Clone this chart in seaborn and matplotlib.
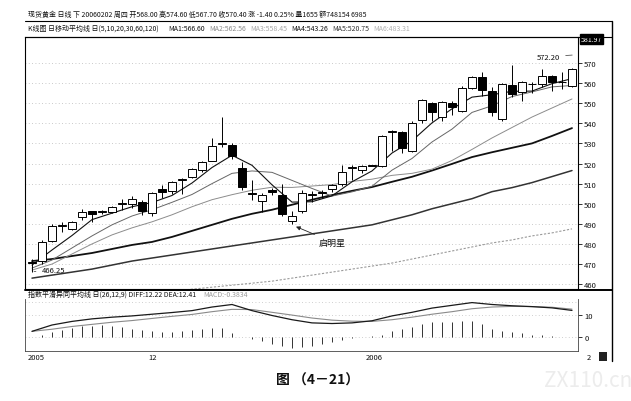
import numpy as np
import pandas as pd
import matplotlib
matplotlib.use('Agg')
import matplotlib.pyplot as plt
import seaborn as sns
from matplotlib.lines import Line2D
from matplotlib.patches import Rectangle

# ---- daily candles, left to right ----
opens  = [471.2, 471.5, 481.5, 489.0, 487.5, 493.5, 496.2, 495.8, 496.0, 500.0,
          500.0, 501.0, 495.5, 507.3, 506.3, 512.0, 513.3, 516.8, 521.2, 529.5,
          529.2, 517.8, 505.5, 501.3, 506.8, 504.3, 491.5, 496.4, 504.5, 505.5,
          507.3, 509.8, 518.0, 516.8, 518.8, 518.8, 535.5, 535.7, 526.2, 541.6,
          550.1, 543.1, 550.1, 546.1, 557.6, 563.0, 556.1, 542.1, 559.1, 555.6,
          559.3, 559.6, 563.5, 560.3, 558.6]
highs  = [472.5, 482.0, 490.0, 491.0, 491.5, 497.5, 496.5, 497.0, 499.0, 502.5,
          504.0, 502.0, 506.0, 509.5, 511.5, 513.0, 518.0, 521.0, 532.5, 543.0,
          530.0, 520.5, 512.0, 505.5, 508.0, 510.0, 496.5, 507.0, 506.5, 507.0,
          510.0, 519.3, 519.5, 519.5, 519.0, 534.0, 536.5, 536.0, 541.0, 552.0,
          550.5, 551.0, 551.0, 558.5, 563.5, 565.5, 558.0, 560.0, 569.0, 561.0,
          560.5, 567.0, 564.0, 565.5, 567.5]
lows   = [466.25, 470.0, 481.0, 486.0, 487.0, 492.0, 491.0, 495.0, 495.5, 497.0,
          498.0, 494.5, 494.0, 503.0, 505.0, 505.0, 513.0, 516.0, 521.0, 528.0,
          522.0, 507.0, 502.0, 496.0, 504.5, 494.0, 490.0, 495.5, 501.0, 503.0,
          506.0, 509.0, 512.0, 515.5, 518.8, 518.5, 526.0, 525.0, 525.5, 540.0,
          541.0, 541.0, 544.0, 545.5, 557.0, 553.5, 543.5, 541.0, 553.0, 551.0,
          555.0, 558.0, 556.0, 557.0, 558.0]
closes = [470.5, 481.0, 489.0, 489.3, 491.0, 496.0, 495.0, 496.0, 498.5, 500.5,
          502.3, 496.5, 505.3, 505.8, 510.8, 512.5, 517.3, 520.7, 528.7, 530.0,
          523.7, 508.3, 505.0, 504.3, 505.8, 495.0, 494.0, 505.3, 505.0, 506.0,
          509.3, 515.8, 518.5, 518.8, 519.0, 533.7, 536.0, 527.7, 540.1, 551.6,
          545.6, 550.6, 548.1, 557.6, 563.0, 556.6, 545.6, 559.6, 554.6, 560.5,
          559.6, 563.5, 560.5, 560.6, 567.0]

# ---- moving averages, read every second day ----
ma_days = list(range(0, 55, 2))
ma5   = [469.5, 477.0, 484.2, 492.1, 495.3, 498.5, 500.6, 504.1, 510.3, 518.0,
         524.1, 519.1, 509.4, 500.8, 501.0, 503.9, 510.9, 516.3, 525.2, 531.3,
         540.2, 547.2, 553.0, 554.2, 555.9, 556.0, 559.7, 562.2]
ma10  = [468.0, 472.0, 478.0, 484.0, 489.5, 493.9, 497.0, 500.7, 504.6, 510.0,
         515.1, 516.3, 515.6, 511.6, 507.6, 503.8, 505.9, 508.7, 516.7, 522.5,
         530.7, 537.1, 545.4, 548.7, 553.3, 555.6, 558.1, 558.8]
ma20  = [467.0, 470.0, 475.0, 480.0, 484.5, 488.0, 491.0, 494.5, 498.5, 502.0,
         504.5, 506.7, 508.2, 508.1, 508.8, 509.5, 511.1, 512.2, 514.1, 515.1,
         517.2, 521.5, 527.0, 532.7, 537.9, 543.1, 547.6, 552.1]
ma30  = [471.5, 472.5, 474.0, 475.5, 477.5, 479.5, 481.0, 483.5, 486.5, 489.5,
         492.5, 495.0, 497.0, 499.5, 502.0, 504.3, 506.4, 508.3, 510.9, 513.4,
         516.5, 519.8, 523.2, 525.6, 527.8, 530.0, 533.7, 537.6]
ma60  = [463.0, 464.5, 466.0, 467.5, 469.5, 471.5, 473.0, 474.5, 476.0, 477.5,
         479.0, 480.5, 482.0, 483.5, 485.0, 486.5, 488.0, 489.5, 492.0, 494.5,
         497.5, 500.0, 502.5, 506.0, 508.0, 510.5, 513.5, 516.5]
ma120 = [np.nan, np.nan, np.nan, np.nan, np.nan, np.nan, 455.5, 456.5, 457.5, 458.5,
         459.5, 460.5, 461.5, 463.0, 464.5, 466.0, 467.5, 469.0, 470.5, 472.5,
         474.5, 476.5, 478.5, 480.5, 482.0, 484.0, 485.5, 487.5]

# ---- MACD (26,12,9) ----
diff = [2.5, 5.5, 7.2, 8.4, 9.2, 9.8, 10.6, 11.4, 12.3, 14.0,
        15.2, 12.3, 10.0, 8.0, 6.5, 6.2, 6.5, 7.5, 9.8, 11.5,
        13.5, 14.8, 16.1, 15.2, 14.6, 14.2, 13.6, 12.4]
dea  = [2.5, 3.5, 4.8, 5.8, 6.8, 7.6, 8.6, 9.6, 10.5, 11.8,
        12.9, 12.8, 11.5, 10.2, 8.8, 7.8, 7.3, 7.2, 8.0, 9.2,
        10.6, 11.8, 13.2, 14.0, 14.3, 14.2, 13.9, 13.0]
macd_bar = [0.0, 0.8, 2.0, 3.2, 4.2, 4.8, 5.2, 5.3, 5.0, 4.5,
            3.8, 3.0, 2.6, 2.4, 2.4, 2.6, 3.0, 3.6, 4.2, 4.0,
            1.5, -0.2, -1.2, -2.3, -3.5, -4.5, -5.6, -5.0, -4.3, -3.5,
            -2.5, -1.4, -0.6, -0.2, 0.3, 1.0, 2.5, 3.6, 4.6, 5.8,
            6.8, 7.0, 6.8, 7.2, 7.5, 6.0, 3.5, 2.5, 2.0, 1.5,
            1.0, 0.6, 0.3, -0.3, -0.4]

price_ticks = [460, 470, 480, 490, 500, 510, 520, 530, 540, 550, 560, 570]
date_labels = ['2005', '12', '2006', '2']
date_pos    = [-0.4, 11.6, 33.4, 55.5]

sns.set_theme(style='white')
plt.rcParams['font.family'] = ['Noto Sans CJK SC', 'DejaVu Sans']
plt.rcParams['axes.unicode_minus'] = False

W, H = 631, 402
fig = plt.figure(figsize=(W / 100, H / 100), dpi=100)
fig.patch.set_facecolor('white')


def px_axes(l, t, r, b):
    return fig.add_axes([l / W, 1 - b / H, (r - l) / W, (b - t) / H])


def fline(x0, y0, x1, y1, lw=0.8, color='black'):
    fig.add_artist(Line2D([x0 / W, x1 / W], [1 - y0 / H, 1 - y1 / H],
                          lw=lw, color=color, transform=fig.transFigure))


ax = px_axes(25, 38, 578, 290)
ax2 = px_axes(25, 300, 578, 352)

days = np.arange(len(closes))
candles = pd.DataFrame({'day': days, 'open': opens, 'high': highs,
                        'low': lows, 'close': closes})
mas = pd.DataFrame({'day': ma_days, 'MA5': ma5, 'MA10': ma10, 'MA20': ma20,
                    'MA30': ma30, 'MA60': ma60, 'MA120': ma120})

# price grid
for p in price_ticks:
    ax.axhline(p, color='#b8b8b8', lw=0.6, ls=(0, (1, 3)), zorder=0)

ma_styles = {
    'MA120': dict(color='#9a9a9a', lw=0.8, ls=(0, (2, 1.5))),
    'MA60':  dict(color='#333333', lw=1.1, ls='-'),
    'MA30':  dict(color='#111111', lw=1.3, ls='-'),
    'MA20':  dict(color='#8c8c8c', lw=0.7, ls='-'),
    'MA10':  dict(color='#666666', lw=0.7, ls='-'),
    'MA5':   dict(color='#111111', lw=0.8, ls='-'),
}
for name, st in ma_styles.items():
    sns.lineplot(data=mas, x='day', y=name, ax=ax, color=st['color'],
                 linewidth=st['lw'], linestyle=st['ls'], zorder=2)

# candles
up = candles['close'] >= candles['open']
ax.vlines(candles['day'], candles['low'], candles['high'], color='black',
          lw=0.7, zorder=3)
body_lo = np.minimum(candles['open'], candles['close'])
body_h = np.maximum((candles['close'] - candles['open']).abs(), 0.35)
ax.bar(candles['day'], body_h, bottom=body_lo, width=0.72,
       color=np.where(up, 'white', 'black'), edgecolor='black',
       linewidth=0.7, zorder=4)

ax.set_xlim(-0.7, 54.6)
ax.set_ylim(457.6, 582.9)
ax.set_xlabel('')
ax.set_ylabel('')
ax.set_xticks([])
ax.yaxis.tick_right()
ax.set_yticks(price_ticks)
ax.set_yticklabels([str(p) for p in price_ticks])
ax.tick_params(axis='y', right=True, length=3, width=0.6, pad=1.5,
               labelsize=5.5, colors='#111111')
for s in ax.spines.values():
    s.set_color('black')
    s.set_linewidth(0.8)

# annotations on the price panel
ax.annotate('466.25', xy=(0.2, lows[0]), xytext=(1.0, 466.8), fontsize=5.5,
            ha='left', va='center', color='#111111',
            arrowprops=dict(arrowstyle='-', lw=0.5, color='#333333'))
ax.annotate('572.20', xy=(54.3, 574.0), xytext=(51.6, 571.2), fontsize=5.5,
            ha='center', va='bottom', color='#111111',
            arrowprops=dict(arrowstyle='-', lw=0.5, color='#333333'))
ax.annotate('启明星', xy=(26.4, 488.6), xytext=(28.7, 481.0), fontsize=6.5,
            ha='left', va='center', color='#111111',
            arrowprops=dict(arrowstyle='-|>', lw=0.6, color='#222222',
                            mutation_scale=6, shrinkA=1, shrinkB=0))
ax.text(1.005, 582.0, '581.97', transform=ax.get_yaxis_transform(),
        fontsize=5, color='white', ha='left', va='center',
        bbox=dict(boxstyle='square,pad=0.15', fc='black', ec='black'))

# MACD panel
for v in [0, 10, 16.5]:
    ax2.axhline(v, color='#c0c0c0', lw=0.6, ls=(0, (1, 3)), zorder=0)
ax2.vlines(days, 0, macd_bar, color='#333333', lw=0.7, zorder=2)
macd = pd.DataFrame({'day': ma_days, 'DIFF': diff, 'DEA': dea})
sns.lineplot(data=macd, x='day', y='DEA', ax=ax2, color='#8a8a8a',
             linewidth=0.8, zorder=3)
sns.lineplot(data=macd, x='day', y='DIFF', ax=ax2, color='#1a1a1a',
             linewidth=0.9, zorder=4)
ax2.set_xlim(-0.7, 54.6)
ax2.set_ylim(-6.8, 17.8)
ax2.set_xlabel('')
ax2.set_ylabel('')
ax2.set_xticks([])
ax2.yaxis.tick_right()
ax2.set_yticks([0, 10])
ax2.set_yticklabels(['0', '10'])
ax2.tick_params(axis='y', right=True, length=3, width=0.6, pad=1.5,
                labelsize=5.5, colors='#111111')
for side, s in ax2.spines.items():
    s.set_linewidth(0.6)
    s.set_color('#444444')
ax2.spines['top'].set_visible(False)
for lab, pos in zip(date_labels, date_pos):
    ax2.text(pos, -7.6, lab, fontsize=5.5, ha='left', va='top',
             color='#111111', clip_on=False)

# header rows and frame
fig.text(28 / W, 1 - 15 / H,
         '现货黄金 日线 下 20060202 周四 开568.00 高574.60 低567.70 收570.40 '
         '涨 -1.40 0.25% 量1655 额748154 6985',
         fontsize=5.0, va='center', ha='left', color='#111111')
ma_head = [('K线图 日移动平均线 日(5,10,20,30,60,120)', 28, '#111111'),
           ('MA1:566.60', 168, '#111111'), ('MA2:562.56', 209, '#8a8a8a'),
           ('MA3:558.45', 250, '#a8a8a8'), ('MA4:543.26', 291, '#111111'),
           ('MA5:520.75', 332, '#333333'), ('MA6:483.31', 373, '#b0b0b0')]
for txt, x, c in ma_head:
    fig.text(x / W, 1 - 29 / H, txt, fontsize=5.0, va='center', ha='left',
             color=c)
fig.text(28 / W, 1 - 295 / H, '指数平滑异同平均线 日(26,12,9) DIFF:12.22 DEA:12.41',
         fontsize=5.0, va='center', ha='left', color='#111111')
fig.text(203 / W, 1 - 295 / H, 'MACD:-0.3834', fontsize=5.0, va='center',
         ha='left', color='#9a9a9a')

fline(25, 22, 612, 22, lw=0.8)
fline(612, 22, 612, 362, lw=1.0)
fline(25, 38, 612, 38, lw=0.8)
fline(25, 290.5, 612, 290.5, lw=1.4)
fig.add_artist(Rectangle((599 / W, 1 - 362 / H), 8 / W, 9 / H, fc='#222222',
                         ec='none', transform=fig.transFigure))

fig.text(318 / W, 1 - 381 / H, '图 （4－21）', fontsize=10, fontweight='bold',
         ha='center', va='center', color='#111111')
fig.text(588 / W, 1 - 381 / H, 'ZX110.cn', fontsize=15, ha='center',
         va='center', color='#ececec')

fig.savefig('out.png', dpi=100)
